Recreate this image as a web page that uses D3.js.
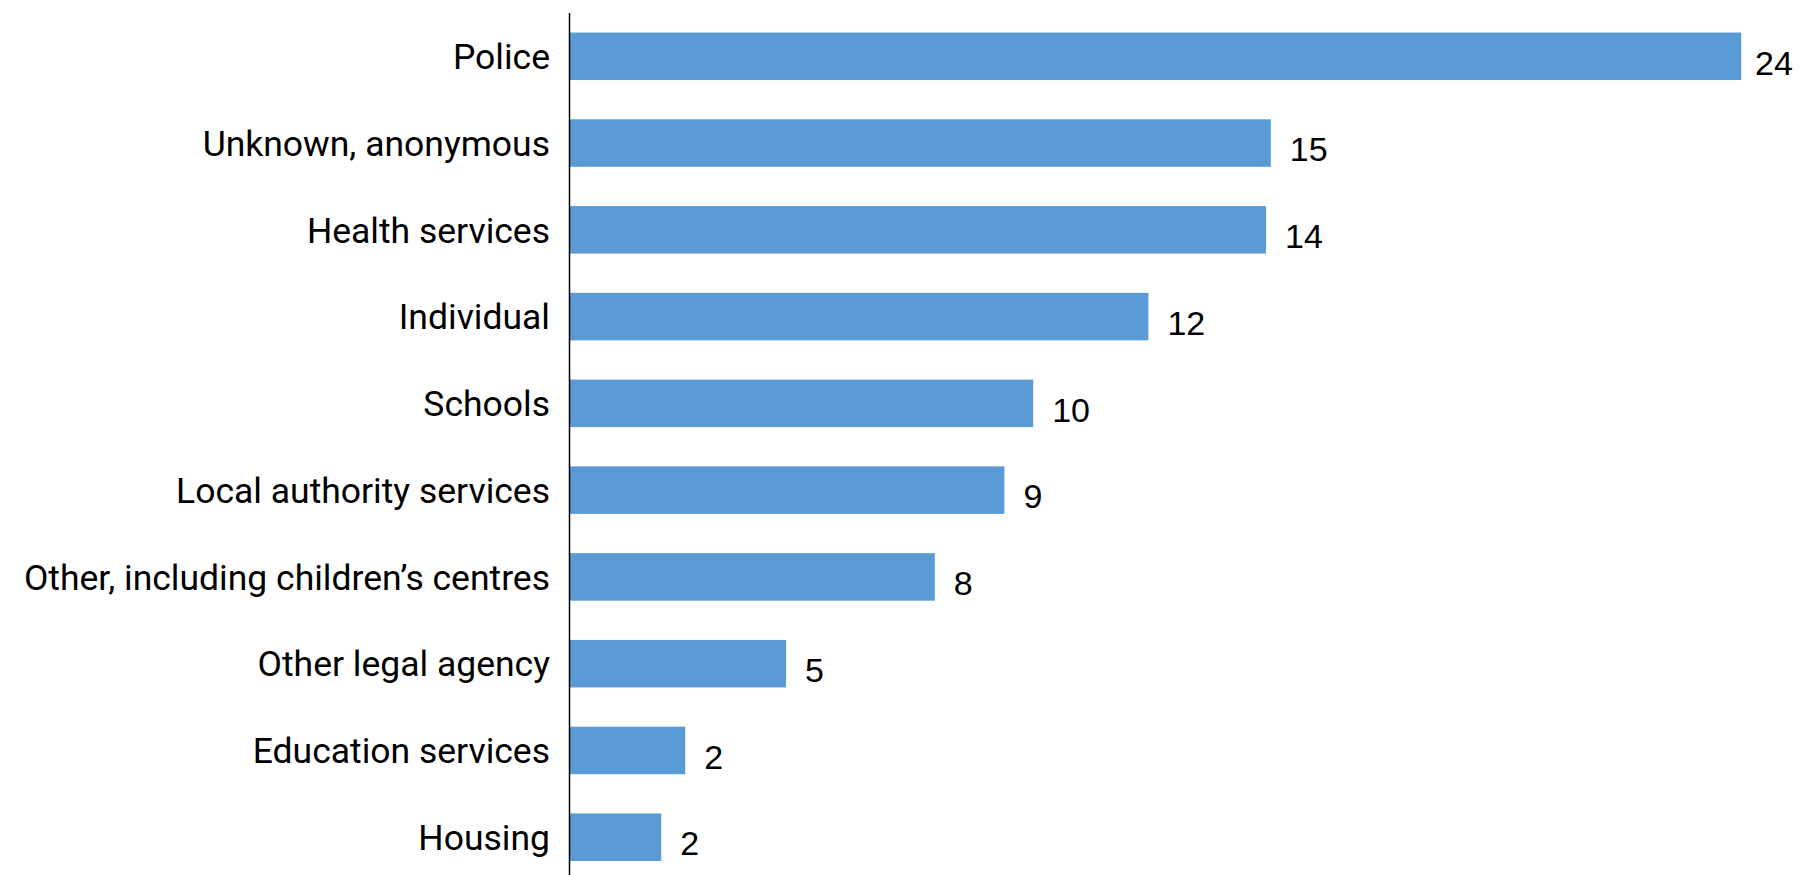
<!DOCTYPE html>
<html>
<head>
<meta charset="utf-8">
<script src="https://cdn.jsdelivr.net/npm/d3@7"></script>
<style>
  html, body { margin: 0; padding: 0; background: #fff; }
  svg { display: block; }
  .cat { font-family: Roboto, "Liberation Sans", sans-serif; font-size: 35.5px; fill: #000; }
  .val { font-family: "Liberation Sans", Arial, sans-serif; font-size: 34px; fill: #000; }
</style>
</head>
<body>
<script>
const categories = [
  "Police",
  "Unknown, anonymous",
  "Health services",
  "Individual",
  "Schools",
  "Local authority services",
  "Other, including children\u2019s centres",
  "Other legal agency",
  "Education services",
  "Housing"
];
const values = [24.4, 14.6, 14.5, 12.05, 9.65, 9.05, 7.6, 4.5, 2.4, 1.9];
const valueLabels = ["24", "15", "14", "12", "10", "9", "8", "5", "2", "2"];

const W = 1800, H = 875;
const data = categories.map((c, i) => ({ cat: c, v: values[i], lab: valueLabels[i] }));

const svg = d3.select("body").append("svg").attr("width", W).attr("height", H);

const x = d3.scaleLinear().domain([0, 25]).range([570, 1770]);
const y = d3.scaleBand().domain(categories).range([12.9, 880.6])
  .paddingInner(0.4524).paddingOuter(0.2262);

svg.append("g").selectAll("rect").data(data).join("rect")
  .attr("x", x(0))
  .attr("y", d => y(d.cat))
  .attr("width", d => x(d.v) - x(0))
  .attr("height", y.bandwidth())
  .attr("fill", "#5B9BD5");

// category labels
svg.append("g").selectAll("text").data(data).join("text")
  .attr("class", "cat")
  .attr("x", x(0) - 20)
  .attr("y", d => y(d.cat) + y.bandwidth() / 2)
  .attr("dy", "0.36em")
  .attr("text-anchor", "end")
  .text(d => d.cat);

// value labels
svg.append("g").selectAll("text").data(data).join("text")
  .attr("class", "val")
  .attr("x", d => Math.min(x(d.v) + 19, W - 45))
  .attr("y", d => y(d.cat) + y.bandwidth() / 2 + 6)
  .attr("dy", "0.36em")
  .text(d => d.lab);

// axis line
svg.append("line")
  .attr("x1", x(0) - 0.5).attr("x2", x(0) - 0.5)
  .attr("y1", 13).attr("y2", H)
  .attr("stroke", "#000").attr("stroke-width", 1.5);
</script>
</body>
</html>
